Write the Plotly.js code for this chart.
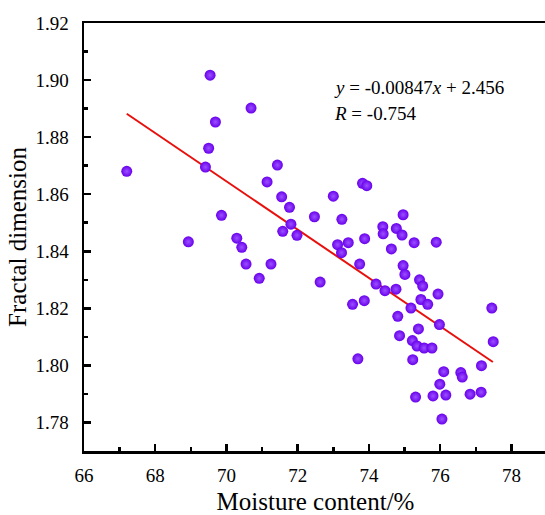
<!DOCTYPE html>
<html>
<head>
<meta charset="utf-8">
<script src="https://cdn.plot.ly/plotly-3.0.1.min.js"></script>
<style>
html,body{margin:0;padding:0;overflow:hidden;background:#fff;width:545px;height:515px;}
#chart{width:550px;height:515px;}
</style>
</head>
<body>
<div id="chart"></div>
<script>
// Moisture content (%) of each sample
const moisture = [
  67.20, 68.93, 69.41, 69.50, 69.54, 69.69, 69.86, 70.29, 70.43, 70.55,
  70.69, 70.92, 71.14, 71.25, 71.43, 71.55, 71.58, 71.77, 71.81, 71.98,
  72.47, 72.63, 73.00, 73.12, 73.23, 73.24, 73.42, 73.54, 73.69, 73.74,
  73.82, 73.94, 73.87, 73.88, 74.20, 74.39, 74.40, 74.45, 74.63, 74.76,
  74.77, 74.81, 74.86, 74.93, 74.96, 74.96, 75.01, 75.18, 75.22, 75.23,
  75.31, 75.35, 75.39, 75.42, 75.46, 75.51, 75.55, 75.65, 75.77, 75.80,
  75.89, 75.94, 75.98, 75.99, 76.05, 76.10, 76.16, 76.58, 76.62, 76.84,
  77.15, 77.16, 77.45, 77.49, 75.27
];
// Fractal dimension of each sample
const fractal = [
  1.8680, 1.8433, 1.8695, 1.8761, 1.9017, 1.8853, 1.8526, 1.8446, 1.8414, 1.8355,
  1.8902, 1.8305, 1.8643, 1.8355, 1.8702, 1.8591, 1.8470, 1.8554, 1.8495, 1.8456,
  1.8521, 1.8292, 1.8593, 1.8423, 1.8395, 1.8512, 1.8430, 1.8214, 1.8023, 1.8355,
  1.8638, 1.8630, 1.8227, 1.8444, 1.8285, 1.8486, 1.8461, 1.8262, 1.8408, 1.8267,
  1.8480, 1.8172, 1.8104, 1.8457, 1.8528, 1.8350, 1.8319, 1.8201, 1.8087, 1.8020,
  1.7889, 1.8068, 1.8128, 1.8300, 1.8231, 1.8278, 1.8061, 1.8214, 1.8061, 1.7893,
  1.8432, 1.8250, 1.8143, 1.7934, 1.7812, 1.7978, 1.7896, 1.7975, 1.7959, 1.7899,
  1.7906, 1.7999, 1.8201, 1.8083, 1.8430
];
// Fitted line endpoints
const fitX = [67.20, 77.48];
const fitY = [1.8882, 1.8012];
// Tick labels
const xTicks = [66, 68, 70, 72, 74, 76, 78];
const yTicks = [1.78, 1.80, 1.82, 1.84, 1.86, 1.88, 1.90, 1.92];
const eqText = ['<i>y</i> = -0.00847<i>x</i> + 2.456', '<i>R</i> = -0.754'];

const serif = 'Liberation Serif, Times New Roman, serif';

const traces = [
  {
    x: fitX, y: fitY, type: 'scatter', mode: 'lines',
    line: {color: '#e8100c', width: 2}, hoverinfo: 'skip'
  },
  {
    x: moisture, y: fractal, type: 'scatter', mode: 'markers',
    marker: {
      size: 11, color: '#6800ec',
      gradient: {type: 'radial', color: '#9c50ff'},
      line: {width: 0}
    }
  }
];

const layout = {
  width: 550, height: 515,
  margin: {l: 84, r: 3, t: 23, b: 64, pad: 0},
  paper_bgcolor: '#fff', plot_bgcolor: '#fff',
  showlegend: false,
  font: {family: serif, color: '#000', size: 19},
  xaxis: {
    range: [66, 79], tickmode: 'array', tickvals: xTicks, ticktext: xTicks.map(String),
    ticks: 'inside', ticklen: 7, tickwidth: 2.5, tickcolor: '#000',
    minor: {tickmode: 'linear', tick0: 66, dtick: 1, ticks: 'inside', ticklen: 4, tickwidth: 2.5, tickcolor: '#000', showgrid: false},
    showline: true, linewidth: 2.5, linecolor: '#000', mirror: true,
    showgrid: false, zeroline: false,
    tickfont: {family: serif, size: 19, color: '#000'},
    ticklabelstandoff: 6,
    title: {text: 'Moisture content/%', font: {family: serif, size: 25, color: '#000'}, standoff: 19}
  },
  yaxis: {
    range: [1.77, 1.92], tickmode: 'array', tickvals: yTicks, ticktext: yTicks.map(v => v.toFixed(2)),
    ticks: 'inside', ticklen: 7, tickwidth: 2.5, tickcolor: '#000',
    minor: {tickmode: 'linear', tick0: 1.78, dtick: 0.01, ticks: 'inside', ticklen: 4, tickwidth: 2.5, tickcolor: '#000', showgrid: false},
    showline: true, linewidth: 2.5, linecolor: '#000', mirror: true,
    showgrid: false, zeroline: false,
    tickfont: {family: serif, size: 19, color: '#000'},
    ticklabelstandoff: 9,
    title: {text: 'Fractal dimension', font: {family: serif, size: 25, color: '#000'}, standoff: 2}
  },
  annotations: [
    {x: 72.95, y: 1.8975, xref: 'x', yref: 'y', text: eqText[0], showarrow: false,
     xanchor: 'left', yanchor: 'middle', font: {family: serif, size: 19, color: '#000'}},
    {x: 72.95, y: 1.8884, xref: 'x', yref: 'y', text: eqText[1], showarrow: false,
     xanchor: 'left', yanchor: 'middle', font: {family: serif, size: 19, color: '#000'}}
  ]
};

Plotly.newPlot('chart', traces, layout, {displayModeBar: false, staticPlot: true});
</script>
</body>
</html>
